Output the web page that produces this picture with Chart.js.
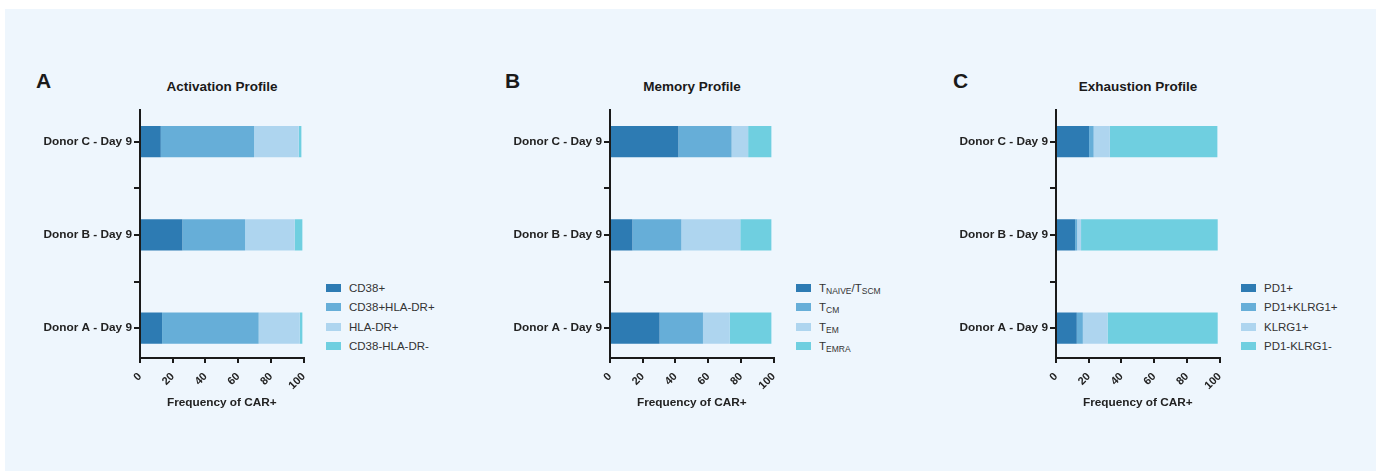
<!DOCTYPE html>
<html>
<head>
<meta charset="utf-8">
<script src="https://cdn.jsdelivr.net/npm/chart.js@4.4.0/dist/chart.umd.min.js"></script>
<style>
  body{margin:0;background:#fff;font-family:"Liberation Sans",Arial,sans-serif;}
  #fondo{position:absolute;left:5px;top:9px;width:1371px;height:462px;background:#EEF6FD;}
  .letra{position:absolute;font-weight:bold;font-size:21px;color:#1a1a1a;}
  .titulo{position:absolute;font-weight:bold;font-size:13.5px;color:#1a1a1a;transform:translateX(-50%);white-space:nowrap;}
  .lienzo{position:absolute;top:60px;}
  .leyenda{position:absolute;top:279px;font-size:11.5px;color:#333;}
  .item{height:19.4px;line-height:19.4px;white-space:nowrap;}
  .caja{display:inline-block;width:15px;height:8px;margin-right:8px;vertical-align:middle;position:relative;top:-1px;}
  .item sub{font-size:8.5px;vertical-align:-2px;}
</style>
</head>
<body>
<div id="fondo"></div>

<div class="letra" style="left:36px;top:69px">A</div>
<div class="letra" style="left:505px;top:69px">B</div>
<div class="letra" style="left:953px;top:69px">C</div>

<div class="titulo" style="left:222px;top:79px">Activation Profile</div>
<div class="titulo" style="left:692px;top:79px">Memory Profile</div>
<div class="titulo" style="left:1138px;top:79px">Exhaustion Profile</div>

<canvas id="gA" class="lienzo" width="300" height="360" style="left:20px"></canvas>
<canvas id="gB" class="lienzo" width="300" height="360" style="left:490px"></canvas>
<canvas id="gC" class="lienzo" width="300" height="360" style="left:936px"></canvas>

<div id="lA" class="leyenda" style="left:326px"></div>
<div id="lB" class="leyenda" style="left:796px"></div>
<div id="lC" class="leyenda" style="left:1241px"></div>

<script>
// Donantes (de abajo hacia arriba)
var donantes = ['Donor A - Day 9', 'Donor B - Day 9', 'Donor C - Day 9'];
var colores = ['#2D7BB3', '#66AED8', '#AED5EF', '#6FCFE0'];
var ticksX = [0, 20, 40, 60, 80, 100];

// Activation Profile
var activacionSeries = ['CD38+', 'CD38+HLA-DR+', 'HLA-DR+', 'CD38-HLA-DR-'];
var cd38 = [13.5, 25.9, 12.7];
var cd38hla = [59.0, 38.3, 57.0];
var hla = [25.1, 30.3, 27.3];
var cd38neg = [1.6, 4.7, 1.6];

// Memory Profile
var memoriaSeries = ['T<sub>NAIVE</sub>/T<sub>SCM</sub>', 'T<sub>CM</sub>', 'T<sub>EM</sub>', 'T<sub>EMRA</sub>'];
var tnaive = [30.3, 13.7, 41.8];
var tcm = [26.5, 29.9, 32.5];
var tem = [16.3, 36.0, 10.1];
var temra = [25.5, 19.0, 14.2];

// Exhaustion Profile
var agotamientoSeries = ['PD1+', 'PD1+KLRG1+', 'KLRG1+', 'PD1-KLRG1-'];
var pd1 = [12.7, 11.7, 20.2];
var pd1klrg1 = [3.7, 1.2, 2.8];
var klrg1 = [15.1, 2.4, 9.9];
var pd1neg = [67.3, 83.5, 65.7];

function puntos(valores){
    //Cada valor va con la posicion del donante
    return valores.map(function(v, i){ return {x: v, y: i}; });
}

function mostrarGrafico(id, series, valores){
    var ctx = document.getElementById(id);
    var datasets = [];
    for (var i = 0; i < series.length; i++){
        datasets.push({
            label: series[i].replace(/<\/?sub>/g, ''),
            data: puntos(valores[i]),
            backgroundColor: colores[i],
            borderWidth: 0,
            barPercentage: 0.67,
            categoryPercentage: 1
        });
    }
    var fuente = '"Liberation Sans", Arial, sans-serif';
    new Chart(ctx, {
        type: 'bar',
        data: { datasets: datasets },
        options: {
            indexAxis: 'y',
            responsive: false,
            animation: false,
            layout: { padding: { top: 50, right: 15, left: 0, bottom: 0 } },
            plugins: { legend: { display: false }, tooltip: { enabled: false } },
            scales: {
                x: {
                    type: 'linear',
                    stacked: true,
                    min: 0,
                    max: 100,
                    afterBuildTicks: function(scale){
                        scale.ticks = ticksX.map(function(v){ return {value: v}; });
                    },
                    afterFit: function(scale){ scale.height = 62; },
                    ticks: {
                        maxRotation: 45, minRotation: 45, padding: 7,
                        color: '#222', font: { family: fuente, size: 11, weight: 'bold' }
                    },
                    grid: { drawOnChartArea: false, tickLength: 5, color: '#1a1a1a', lineWidth: 2 },
                    border: { display: true, color: '#1a1a1a', width: 2 },
                    title: {
                        display: true, text: 'Frequency of CAR+', color: '#222',
                        font: { family: fuente, size: 11.8, weight: 'bold' },
                        padding: { top: 0, bottom: 10 }
                    }
                },
                y: {
                    type: 'linear',
                    stacked: true,
                    offset: false,
                    min: -0.32,
                    max: 2.34,
                    afterBuildTicks: function(scale){
                        scale.ticks = [0, 0.5, 1, 1.5, 2].map(function(v){ return {value: v}; });
                    },
                    afterFit: function(scale){ scale.width = 120; },
                    ticks: {
                        padding: 2, color: '#222',
                        font: { family: fuente, size: 11.8, weight: 'bold' },
                        callback: function(v){ return Number.isInteger(v) ? donantes[v] : ''; }
                    },
                    grid: { offset: false, drawOnChartArea: false, tickLength: 6, color: '#1a1a1a', lineWidth: 2 },
                    border: { display: true, color: '#1a1a1a', width: 2 }
                }
            }
        }
    });
}

function mostrarLeyenda(id, series){
    var html = '';
    series.forEach(function(nombre, i){
        html += '<div class="item"><span class="caja" style="background:' + colores[i] + '"></span>' + nombre + '</div>';
    });
    document.getElementById(id).innerHTML = html;
}

mostrarGrafico('gA', activacionSeries, [cd38, cd38hla, hla, cd38neg]);
mostrarGrafico('gB', memoriaSeries, [tnaive, tcm, tem, temra]);
mostrarGrafico('gC', agotamientoSeries, [pd1, pd1klrg1, klrg1, pd1neg]);
mostrarLeyenda('lA', activacionSeries);
mostrarLeyenda('lB', memoriaSeries);
mostrarLeyenda('lC', agotamientoSeries);
</script>
</body>
</html>
